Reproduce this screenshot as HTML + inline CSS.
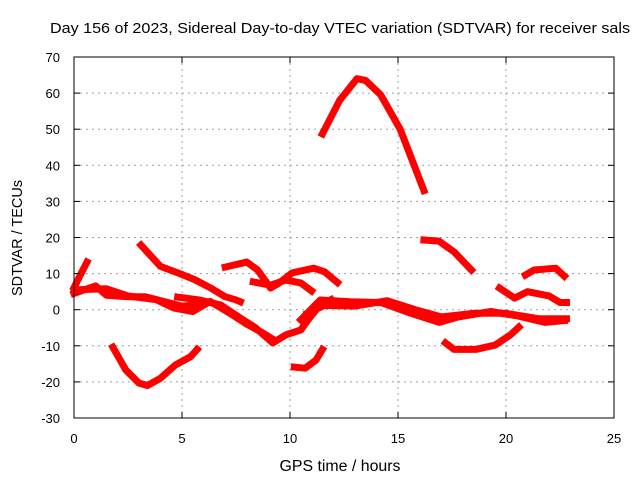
<!DOCTYPE html>
<html><head><meta charset="utf-8"><style>
body{margin:0;background:#fff}
svg{display:block;font-family:"Liberation Sans",sans-serif}
</style></head><body>
<svg id="chart" width="640" height="480">
<rect width="640" height="480" fill="#fff"/>
<g id="grid"></g>
<g id="series"></g>
<rect x="74" y="57" width="540" height="361" fill="none" stroke="#000" stroke-width="1"/>
<g id="ticks" font-size="13" fill="#000"></g>
<text x="340" y="33" font-size="15" text-anchor="middle" textLength="580" lengthAdjust="spacingAndGlyphs">Day 156 of 2023, Sidereal Day-to-day VTEC variation (SDTVAR) for receiver sals</text>
<text x="340" y="471" font-size="15.5" text-anchor="middle" textLength="121" lengthAdjust="spacingAndGlyphs">GPS time / hours</text>
<text transform="translate(22,238) rotate(-90)" font-size="15" text-anchor="middle" textLength="116" lengthAdjust="spacingAndGlyphs">SDTVAR / TECUs</text>
</svg>
<script>
const xTicks=[0,5,10,15,20,25];
const yTicks=[70,60,50,40,30,20,10,0,-10,-20,-30];
const trackArc=[[11.5,48.7],[12.3,58],[13.1,64],[13.5,63.5],[14.2,59.5],[15.1,50],[16.2,33]];
const trackB=[[16.2,19.3],[16.9,19],[17.6,16],[18.4,11]];
const trackMain=[[10.5,-2.8],[11.4,2.7],[12.8,2.2],[14.2,2],[15.6,-1],[16.9,-3.5],[17.8,-2],[19.3,-0.5],[20.6,-1.8],[21.8,-3.5],[22.7,-3]];
const trackMain2=[[10.8,-1],[11.6,1.2],[13,1],[14.5,2.5],[15.8,0],[17,-2],[18.5,-1],[20,-1],[21.5,-2.5],[22.8,-2.5]];
const trackD=[[19.7,6],[20.4,3.2],[21,5],[22,3.8],[22.5,2],[22.8,2]];
const trackE=[[20.9,9.6],[21.3,11],[22.3,11.5],[22.7,9.3]];
const trackF=[[17.2,-9.2],[17.6,-11],[18.6,-11],[19.5,-9.8],[20.2,-7],[20.6,-4.8]];
const trackG=[[10.2,-15.9],[10.7,-16.2],[11.2,-14],[11.5,-11]];
const trackJ=[[7,11.8],[8,13.2],[8.5,11],[9.1,6],[9.5,7.4],[10.1,10.2],[11.1,11.5],[11.6,10.5],[12.2,7.5]];
const trackI=[[8.3,7.7],[9.1,6.8],[9.8,8.2],[10.5,7.4],[11,5.2]];
const trackK=[[3.1,17.9],[4,12],[4.9,10],[5.6,8.3],[6.3,6.1],[7,3.6],[7.5,2.7],[7.7,2.2]];
const trackL=[[4.8,3.5],[5.8,2.7],[6.8,1.3],[7.7,-2.3],[8.4,-5],[9.2,-9.2],[9.8,-7],[10.5,-5.6],[10.9,-2.3],[11.4,1.4],[11.9,2.8]];
const trackM=[[0,5.5],[1.5,5.8],[2.5,3.8],[3.8,2.8],[4.6,0.5],[5.5,-0.5],[6.3,2.3],[7.3,-1.3],[8,-4],[8.7,-6.3],[9.3,-8.5]];
const trackM2=[[0,4.5],[1,6.6],[1.5,4],[2.5,3.6],[3.3,3.6],[4,2.5],[5,1],[6,1.5]];
const trackN=[[0,6.1],[0.3,9.7],[0.6,13.2]];
const trackO=[[1.8,-10.4],[2.4,-16.7],[3,-20.3],[3.4,-21],[4,-19],[4.7,-15.3],[5.4,-13],[5.7,-11]];
const tracks=[trackArc,trackB,trackMain,trackMain2,trackD,trackE,trackF,trackG,trackJ,trackI,trackK,trackL,trackM,trackM2,trackN,trackO];
const X=t=>74+t*21.6, Y=v=>57+(70-v)*3.61;
const NS='http://www.w3.org/2000/svg';
const grid=document.getElementById('grid'),tk=document.getElementById('ticks'),ser=document.getElementById('series');
function mk(tag,attrs,parent){const e=document.createElementNS(NS,tag);for(const k in attrs)e.setAttribute(k,attrs[k]);parent.appendChild(e);return e;}
xTicks.forEach(t=>{
 if(t>0&&t<25){const l=mk('line',{x1:X(t),x2:X(t),y1:57,y2:418,stroke:'#a0a0a0','stroke-dasharray':'2,4'},grid);
 
 }
 mk('line',{x1:X(t),x2:X(t),y1:418,y2:412,stroke:'#000'},tk);
 mk('line',{x1:X(t),x2:X(t),y1:57,y2:63,stroke:'#000'},tk);
 const s=mk('text',{x:X(t),y:443,'text-anchor':'middle'},tk);s.textContent=t;
 
 
});
yTicks.forEach(v=>{
 if(v<70&&v>-30){const l=mk('line',{x1:74,x2:614,y1:Y(v),y2:Y(v),stroke:'#a0a0a0','stroke-dasharray':'2,4'},grid);
 
 }
 mk('line',{x1:74,x2:80,y1:Y(v),y2:Y(v),stroke:'#000'},tk);
 mk('line',{x1:608,x2:614,y1:Y(v),y2:Y(v),stroke:'#000'},tk);
 const s=mk('text',{x:60,y:Y(v)+5,'text-anchor':'end'},tk);s.textContent=v;
 
 
});
tracks.forEach(tr=>{
 const p=mk('polyline',{points:tr.map(d=>X(d[0])+','+Y(d[1])).join(' '),fill:'none',stroke:'#ff0000','stroke-width':7,'stroke-linejoin':'round','stroke-linecap':'square'},ser);
 
 
});
</script>
</body></html>
